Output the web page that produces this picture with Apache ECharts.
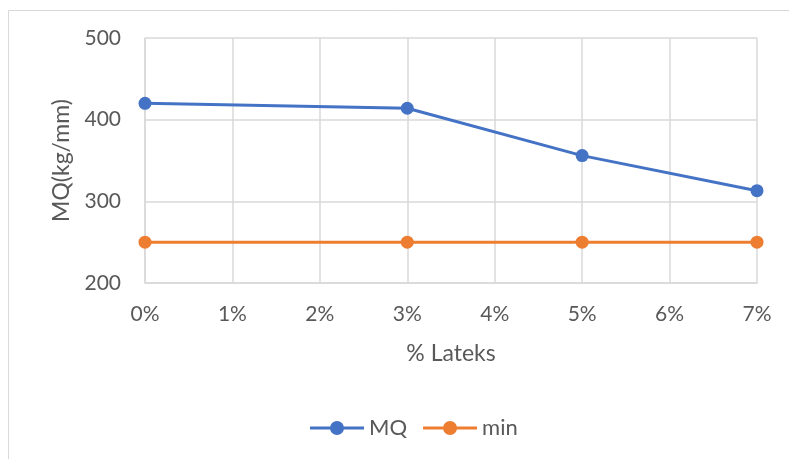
<!DOCTYPE html>
<html>
<head>
<meta charset="utf-8">
<script src="https://cdn.jsdelivr.net/npm/echarts@6/dist/echarts.min.js"></script>
<style>
  html, body { margin: 0; padding: 0; background: #ffffff; }
  #chart { width: 789px; height: 459px; }
</style>
</head>
<body>
<div id="chart"></div>
<script>
// Latex content (%) and measured MQ values
const lateksPercent = [0, 3, 5, 7];
const mqValues = [420, 414, 356, 313];
const minValues = [250, 250, 250, 250];
const seriesNames = ['MQ', 'min'];

const textColor = '#595959';
const fontFamily = 'Lato, "Open Sans", "Noto Sans", sans-serif';

// Legend marker: thick line segment with a dot in the middle
const lineDotIcon = 'path://M0,5.5 H54 V8.5 H0 Z M20,7 A7,7 0 1,1 34,7 A7,7 0 1,1 20,7 Z';

const chart = echarts.init(document.getElementById('chart'), null, { renderer: 'canvas' });

function pairs(xs, ys) {
  return xs.map((x, i) => [x, ys[i]]);
}

chart.setOption({
  animation: false,
  backgroundColor: '#ffffff',
  graphic: [{
    type: 'rect',
    shape: { x: 8.5, y: 10.5, width: 800, height: 460 },
    style: { fill: 'none', stroke: '#d9d9d9', lineWidth: 1 },
    silent: true
  }],
  grid: { left: 145, right: 32, top: 38, bottom: 176 },
  legend: {
    data: seriesNames.map(n => ({ name: n, icon: lineDotIcon })),
    left: 305,
    top: 412,
    itemWidth: 54,
    itemHeight: 14,
    itemGap: 16,
    textStyle: { color: textColor, fontSize: 22, fontFamily: fontFamily }
  },
  xAxis: {
    type: 'value',
    min: 0,
    max: 7,
    interval: 1,
    name: '% Lateks',
    nameLocation: 'middle',
    nameGap: 59,
    nameTextStyle: { color: textColor, fontSize: 23, fontFamily: fontFamily },
    axisLine: { show: true, lineStyle: { color: '#d9d9d9', width: 1.5 } },
    axisTick: { show: false },
    axisLabel: { color: textColor, fontSize: 21, fontFamily: fontFamily, margin: 21, formatter: '{value}%' },
    splitLine: { show: true, lineStyle: { color: '#d9d9d9', width: 1.5 } }
  },
  yAxis: {
    type: 'value',
    min: 200,
    max: 500,
    interval: 100,
    name: 'MQ(kg/mm)',
    nameLocation: 'middle',
    nameGap: 70,
    nameRotate: 90,
    nameTextStyle: { color: textColor, fontSize: 23, fontFamily: fontFamily },
    axisLine: { show: true, lineStyle: { color: '#d9d9d9', width: 1.5 } },
    axisTick: { show: false },
    axisLabel: { color: textColor, fontSize: 21, fontFamily: fontFamily, margin: 24 },
    splitLine: { show: true, lineStyle: { color: '#d9d9d9', width: 1.5 } }
  },
  series: [
    {
      name: seriesNames[0],
      type: 'line',
      data: pairs(lateksPercent, mqValues),
      symbol: 'circle',
      symbolSize: 13,
      itemStyle: { color: '#4472C4' },
      lineStyle: { color: '#4472C4', width: 3 }
    },
    {
      name: seriesNames[1],
      type: 'line',
      data: pairs(lateksPercent, minValues),
      symbol: 'circle',
      symbolSize: 13,
      itemStyle: { color: '#ED7D31' },
      lineStyle: { color: '#ED7D31', width: 3 }
    }
  ]
});
</script>
</body>
</html>
